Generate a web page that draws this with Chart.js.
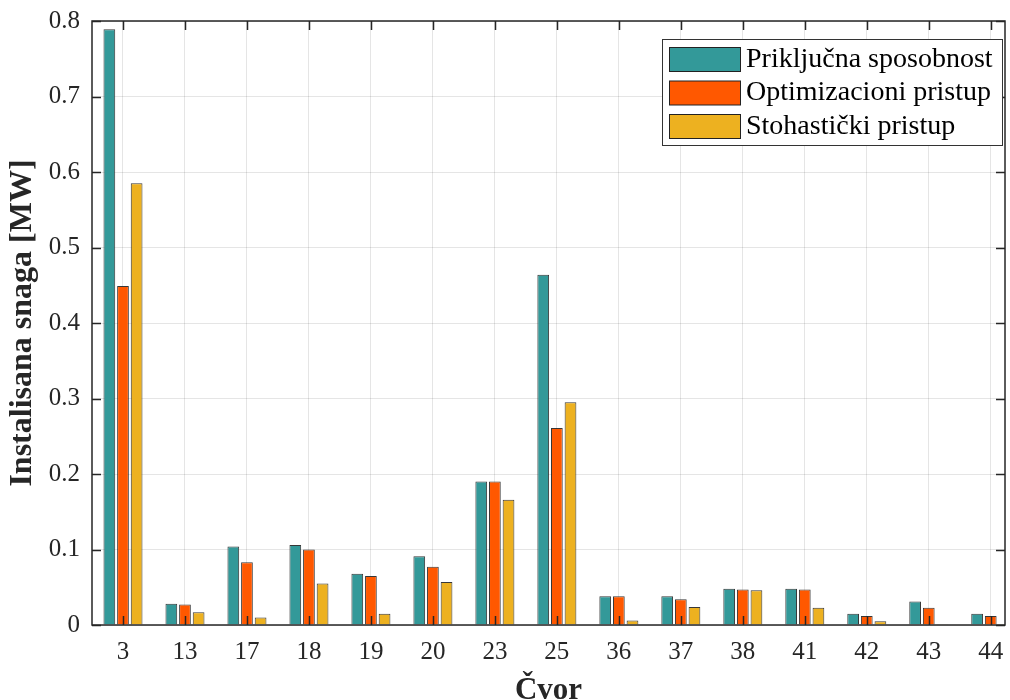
<!DOCTYPE html>
<html>
<head>
<meta charset="utf-8">
<script src="https://cdn.jsdelivr.net/npm/chart.js@4.4.0/dist/chart.umd.min.js"></script>
<style>
  html, body { margin: 0; padding: 0; background: #fff; }
  #wrap { width: 1010px; height: 700px; }
</style>
</head>
<body>
<div id="wrap"><canvas id="barChart" width="1010" height="700"></canvas></div>
<script>
// Data
var nodes = ["3", "13", "17", "18", "19", "20", "23", "25", "36", "37", "38", "41", "42", "43", "44"];
var prikljucna = [0.789, 0.028, 0.104, 0.106, 0.068, 0.091, 0.190, 0.464, 0.038, 0.038, 0.048, 0.048, 0.015, 0.031, 0.015];
var optimizacioni = [0.449, 0.027, 0.083, 0.100, 0.065, 0.077, 0.190, 0.261, 0.038, 0.034, 0.047, 0.047, 0.012, 0.023, 0.012];
var stohasticki = [0.585, 0.017, 0.010, 0.055, 0.015, 0.057, 0.166, 0.295, 0.006, 0.024, 0.046, 0.023, 0.005, 0.001, 0.001];
var seriesNames = ["Priključna sposobnost", "Optimizacioni pristup", "Stohastički pristup"];
var yTicks = [0, 0.1, 0.2, 0.3, 0.4, 0.5, 0.6, 0.7, 0.8];

var barColors = ["rgb(51, 153, 153)", "rgb(255, 88, 0)", "rgb(237, 177, 32)"];
var fontName = "'Liberation Serif', 'Times New Roman', serif";
var axisColor = "#262626";

function points(values) {
    return values.map(function (v, i) { return { x: i + 1, y: v }; });
}

// box, inward ticks and legend, like the original figure
var framePlugin = {
    id: "frame",
    afterDatasetsDraw: function (chart) {
        var ctx = chart.ctx;
        var a = chart.chartArea;
        var xs = chart.scales.x, ys = chart.scales.y;
        ctx.save();
        ctx.strokeStyle = axisColor;
        ctx.lineWidth = 1.5;
        ctx.beginPath();
        for (var i = 0; i < nodes.length; i++) {
            var px = Math.round(xs.getPixelForValue(i + 1)) + 0.5;
            ctx.moveTo(px, a.bottom); ctx.lineTo(px, a.bottom - 9);
            ctx.moveTo(px, a.top); ctx.lineTo(px, a.top + 9);
        }
        yTicks.forEach(function (t) {
            var py = Math.round(ys.getPixelForValue(t)) + 0.5;
            ctx.moveTo(a.left, py); ctx.lineTo(a.left + 9, py);
            ctx.moveTo(a.right, py); ctx.lineTo(a.right - 9, py);
        });
        ctx.stroke();
        ctx.strokeRect(a.left, a.top, a.right - a.left, a.bottom - a.top);

        // legend
        var bx = 662, by = 39.5, bw = 340, bh = 106;
        ctx.fillStyle = "#fff";
        ctx.fillRect(bx, by, bw, bh);
        ctx.lineWidth = 1;
        ctx.strokeStyle = "#333";
        ctx.strokeRect(bx + 0.5, by, bw, bh);
        ctx.font = "28px " + fontName;
        ctx.textBaseline = "middle";
        for (var k = 0; k < seriesNames.length; k++) {
            var sy = 47.5 + k * 33.5;
            ctx.fillStyle = barColors[k];
            ctx.fillRect(669, sy, 71, 24);
            ctx.strokeStyle = "#222";
            ctx.strokeRect(669.5, sy, 71, 24);
            ctx.fillStyle = "#000";
            ctx.fillText(seriesNames[k], 746, sy + 12);
        }
        ctx.restore();
    }
};

new Chart("barChart", {
    type: "bar",
    data: {
        datasets: [
            { label: seriesNames[0], data: points(prikljucna), backgroundColor: barColors[0] },
            { label: seriesNames[1], data: points(optimizacioni), backgroundColor: barColors[1] },
            { label: seriesNames[2], data: points(stohasticki), backgroundColor: barColors[2] }
        ]
    },
    options: {
        responsive: false,
        animation: false,
        layout: { padding: { top: 21, right: 5, left: 0, bottom: 0 } },
        datasets: {
            bar: {
                borderWidth: 1,
                borderColor: "rgba(20, 20, 20, 0.85)",
                borderSkipped: "start",
                categoryPercentage: 0.66,
                barPercentage: 0.86
            }
        },
        plugins: {
            legend: { display: false },
            tooltip: { enabled: false }
        },
        scales: {
            x: {
                type: "linear",
                offset: false,
                min: 0.5,
                max: 15.23,
                afterBuildTicks: function (scale) {
                    scale.ticks = nodes.map(function (n, i) { return { value: i + 1 }; });
                },
                afterFit: function (scale) {
                    scale.height = 75;
                    scale.paddingLeft = 0;
                    scale.paddingRight = 0;
                },
                grid: { color: "rgba(0, 0, 0, 0.1)", drawTicks: false, offset: false },
                border: { display: false },
                ticks: {
                    autoSkip: false,
                    maxRotation: 0,
                    padding: 12,
                    color: axisColor,
                    font: { family: fontName, size: 25 },
                    callback: function (value) { return nodes[value - 1]; }
                },
                title: {
                    display: true,
                    text: "Čvor",
                    color: axisColor,
                    padding: { top: 0, bottom: -10 },
                    font: { family: fontName, size: 31, weight: "bold" }
                }
            },
            y: {
                min: 0,
                max: 0.8,
                afterBuildTicks: function (scale) {
                    scale.ticks = yTicks.map(function (t) { return { value: t }; });
                },
                afterFit: function (scale) {
                    scale.width = 92;
                    scale.paddingTop = 0;
                    scale.paddingBottom = 0;
                },
                grid: { color: "rgba(0, 0, 0, 0.1)", drawTicks: false },
                border: { display: false },
                ticks: {
                    padding: 12,
                    color: axisColor,
                    font: { family: fontName, size: 25 },
                    callback: function (value) { return String(value); }
                },
                title: {
                    display: true,
                    text: "Instalisana snaga [MW]",
                    color: axisColor,
                    padding: { bottom: 0 },
                    font: { family: fontName, size: 32, weight: "bold" }
                }
            }
        }
    },
    plugins: [framePlugin]
});
</script>
</body>
</html>
